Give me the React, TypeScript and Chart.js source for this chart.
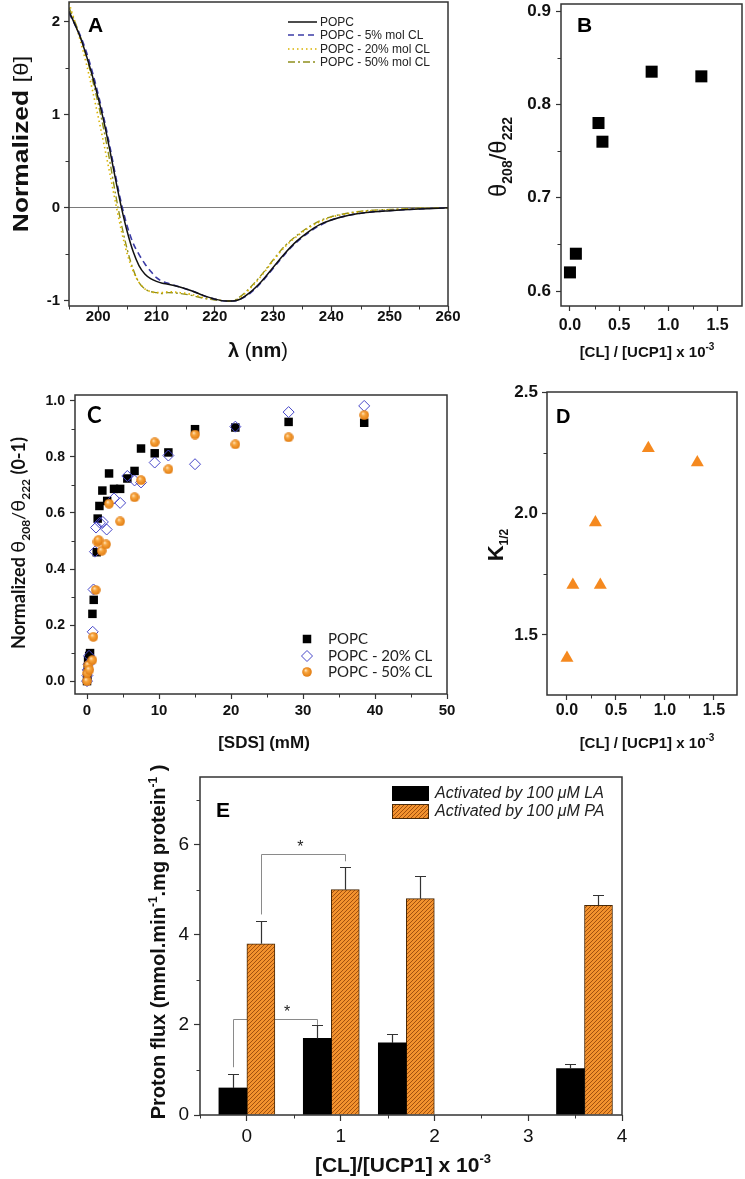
import React, { useEffect, useRef } from 'react';
import { Chart, registerables } from 'chart.js';

Chart.register(...registerables);

const SANS = "'Liberation Sans', Arial, Helvetica, sans-serif";
const CAL = "Lato, 'Open Sans', 'Liberation Sans', sans-serif";

// ---------------- Panel A : CD spectra ----------------
const wavelengthA = [195, 196, 197, 198, 199, 200, 201, 202, 203, 204, 205, 206, 207, 208, 209, 210, 211, 212, 214, 216, 218, 220, 222, 223, 224, 226, 228, 230, 232, 234, 236, 238, 240, 243, 246, 250, 255, 260];
const popcA = [2.11, 1.97, 1.82, 1.63, 1.42, 1.18, 0.92, 0.62, 0.30, 0.00, -0.26, -0.47, -0.62, -0.71, -0.76, -0.79, -0.81, -0.82, -0.85, -0.89, -0.94, -0.98, -1.00, -1.00, -0.99, -0.91, -0.79, -0.64, -0.49, -0.36, -0.26, -0.18, -0.13, -0.08, -0.05, -0.03, -0.012, 0];
const cl5A = [2.09, 1.97, 1.84, 1.67, 1.46, 1.22, 0.96, 0.66, 0.34, 0.04, -0.20, -0.38, -0.50, -0.60, -0.68, -0.75, -0.79, -0.81, -0.85, -0.89, -0.94, -0.98, -1.00, -1.00, -0.99, -0.92, -0.80, -0.65, -0.50, -0.37, -0.27, -0.19, -0.13, -0.08, -0.05, -0.03, -0.012, 0];
const cl20A = [2.20, 2.00, 1.78, 1.54, 1.27, 0.98, 0.68, 0.37, 0.05, -0.25, -0.50, -0.68, -0.80, -0.87, -0.90, -0.91, -0.91, -0.90, -0.91, -0.93, -0.96, -0.98, -1.00, -1.00, -0.98, -0.87, -0.73, -0.57, -0.42, -0.31, -0.22, -0.15, -0.10, -0.06, -0.035, -0.02, -0.006, 0];
const cl50A = [2.15, 2.00, 1.83, 1.62, 1.38, 1.12, 0.83, 0.50, 0.14, -0.18, -0.45, -0.66, -0.80, -0.87, -0.90, -0.91, -0.92, -0.91, -0.92, -0.94, -0.97, -0.99, -1.00, -1.00, -0.97, -0.86, -0.72, -0.56, -0.41, -0.30, -0.21, -0.14, -0.095, -0.055, -0.03, -0.018, -0.005, 0];
const legendA = ['POPC', 'POPC - 5% mol CL', 'POPC - 20% mol CL', 'POPC - 50% mol CL'];

// ---------------- Panel B ----------------
const clRatioB = [0, 0.06, 0.29, 0.33, 0.83, 1.335];
const thetaRatioB = [0.62, 0.64, 0.78, 0.76, 0.835, 0.83];

// ---------------- Panel C ----------------
const sdsPOPC = [0, 0.05, 0.1, 0.15, 0.3, 0.42, 0.75, 0.93, 1.35, 1.48, 1.72, 2.13, 2.8, 3.06, 3.75, 4.6, 5.6, 6.6, 7.5, 9.4, 11.3, 15.0, 20.6, 28.0, 38.5];
const normPOPC = [0.0, 0.02, 0.05, 0.075, 0.09, 0.10, 0.24, 0.29, 0.46, 0.58, 0.625, 0.68, 0.643, 0.741, 0.686, 0.686, 0.723, 0.75, 0.83, 0.813, 0.816, 0.899, 0.905, 0.925, 0.922];
const sdsCL20 = [0, 0.05, 0.1, 0.2, 0.28, 0.79, 0.9, 1.1, 1.25, 1.8, 2.2, 2.73, 3.75, 4.6, 5.6, 6.6, 7.5, 9.4, 11.3, 15.0, 20.6, 28.0, 38.5];
const normCL20 = [0.0, 0.02, 0.04, 0.06, 0.09, 0.176, 0.327, 0.462, 0.548, 0.565, 0.568, 0.541, 0.652, 0.636, 0.732, 0.716, 0.709, 0.78, 0.805, 0.774, 0.908, 0.96, 0.982];
const sdsCL50 = [0, 0.03, 0.19, 0.32, 0.74, 0.88, 1.2, 1.45, 1.6, 2.04, 2.64, 3.06, 4.6, 6.6, 7.5, 9.4, 11.3, 15.0, 20.6, 28.0, 38.5];
const normCL50 = [0.0, 0.028, 0.057, 0.04, 0.075, 0.158, 0.325, 0.497, 0.503, 0.465, 0.488, 0.633, 0.57, 0.656, 0.717, 0.852, 0.756, 0.88, 0.845, 0.87, 0.949];
const legendC = ['POPC', 'POPC - 20% CL', 'POPC - 50% CL'];

// ---------------- Panel D ----------------
const clRatioD = [0, 0.06, 0.29, 0.34, 0.83, 1.33];
const kHalfD = [1.405, 1.706, 1.963, 1.706, 2.268, 2.21];

// ---------------- Panel E ----------------
const ratioE = [0, 0.9, 1.7, 3.6];
const fluxLA = [0.6, 1.7, 1.6, 1.03];
const errLA = [0.3, 0.3, 0.2, 0.1];
const fluxPA = [3.8, 5.0, 4.8, 4.65];
const errPA = [0.5, 0.5, 0.5, 0.23];
const legendE = ['Activated by 100 \u03BCM LA', 'Activated by 100 \u03BCM PA'];
const bracketsE = [
  { x1: 0.15, x2: 1.05, top: 5.79, foot1: 4.45, foot2: 5.63 },
  { x1: -0.15, x2: 0.75, top: 2.14, foot1: 1.06, foot2: 2.0 },
];
const starsE = [
  { x: 0.57, y: 6.03 },
  { x: 0.43, y: 2.37 },
];

// ---------------- helpers ----------------
const xy = (xs: number[], ys: number[]) => xs.map((x, i) => ({ x, y: ys[i] }));

type Seg = { t: string; f: string; dy?: number };
function rich(ctx: CanvasRenderingContext2D, segs: Seg[], x: number, y: number, rot = 0, sx = 1, color = '#111') {
  ctx.save();
  ctx.translate(x, y);
  if (rot) ctx.rotate(rot);
  if (sx !== 1) ctx.scale(sx, 1);
  ctx.textBaseline = 'alphabetic';
  ctx.textAlign = 'left';
  ctx.fillStyle = color;
  const ws = segs.map((s) => {
    ctx.font = s.f;
    return ctx.measureText(s.t).width;
  });
  let cx = -ws.reduce((a, b) => a + b, 0) / 2;
  segs.forEach((s, i) => {
    ctx.font = s.f;
    ctx.fillText(s.t, cx, s.dy || 0);
    cx += ws[i];
  });
  ctx.restore();
}

function letter(ctx: CanvasRenderingContext2D, t: string, x: number, y: number, font: string) {
  ctx.save();
  ctx.font = font;
  ctx.fillStyle = '#000';
  ctx.textAlign = 'left';
  ctx.textBaseline = 'alphabetic';
  ctx.fillText(t, x, y);
  ctx.restore();
}

function linAxis(o: any) {
  return {
    type: 'linear',
    min: o.min,
    max: o.max,
    offset: false,
    ticks: {
      stepSize: o.step,
      includeBounds: false,
      autoSkip: false,
      maxRotation: 0,
      minRotation: 0,
      padding: o.pad,
      color: '#111',
      font: o.font,
      callback: (v: any) => Number(v).toFixed(o.digits),
    },
    grid: Object.assign(
      { display: true, offset: false, drawOnChartArea: false, drawTicks: true, tickLength: o.tick ?? 5, tickColor: '#333', tickWidth: 1.2, color: 'rgba(0,0,0,0)' },
      o.grid || {}
    ),
    border: { display: false },
    afterFit: (s: any) => {
      if (o.vertical) s.width = o.size;
      else s.height = o.size;
      s.paddingTop = 0;
      s.paddingBottom = 0;
      s.paddingLeft = 0;
      s.paddingRight = 0;
    },
  };
}

function decor(o: any) {
  return {
    id: 'decor',
    beforeDatasetsDraw(chart: any) {
      if (o.before) {
        const ctx = chart.ctx;
        ctx.save();
        o.before(chart, ctx);
        ctx.restore();
      }
    },
    afterDraw(chart: any) {
      const ctx: CanvasRenderingContext2D = chart.ctx;
      const a = chart.chartArea;
      ctx.save();
      ctx.strokeStyle = '#333';
      ctx.lineWidth = 1;
      const len = o.minorLen ?? 3.5;
      if (o.minorX) {
        const [step, major] = o.minorX;
        const s = chart.scales.x;
        for (let k = Math.ceil(s.min / step - 1e-9); k * step <= s.max + 1e-9; k++) {
          const v = k * step;
          if (Math.abs(v / major - Math.round(v / major)) < 1e-6) continue;
          const px = Math.round(s.getPixelForValue(v)) + 0.5;
          ctx.beginPath();
          ctx.moveTo(px, a.bottom);
          ctx.lineTo(px, a.bottom + len);
          ctx.stroke();
        }
      }
      if (o.minorY) {
        const [step, major] = o.minorY;
        const s = chart.scales.y;
        for (let k = Math.ceil(s.min / step - 1e-9); k * step <= s.max + 1e-9; k++) {
          const v = k * step;
          if (Math.abs(v / major - Math.round(v / major)) < 1e-6) continue;
          const py = Math.round(s.getPixelForValue(v)) + 0.5;
          ctx.beginPath();
          ctx.moveTo(a.left - len, py);
          ctx.lineTo(a.left, py);
          ctx.stroke();
        }
      }
      ctx.lineWidth = 1.5;
      ctx.strokeRect(a.left, a.top, a.right - a.left, a.bottom - a.top);
      ctx.restore();
      if (o.after) {
        ctx.save();
        o.after(chart, ctx);
        ctx.restore();
      }
    },
  };
}

const baseOpts = (pad: any) => ({
  animation: false,
  responsive: false,
  maintainAspectRatio: false,
  devicePixelRatio: 1,
  events: [],
  layout: { autoPadding: false, padding: pad },
  plugins: { legend: { display: false }, tooltip: { enabled: false }, title: { display: false } },
});

const bf = (size: number, family = SANS) => ({ family, size, weight: 'bold', lineHeight: 1 });

// ---------------- builders ----------------
function buildA() {
  const styles = [
    { ys: popcA, color: '#111111', dash: [], width: 1.5 },
    { ys: cl5A, color: '#3c3ca6', dash: [6, 4], width: 1.6 },
    { ys: cl20A, color: '#d9b300', dash: [1.5, 3], width: 1.6 },
    { ys: cl50A, color: '#8f8f1c', dash: [7, 3, 2, 3], width: 1.4 },
  ];
  return {
    type: 'line',
    data: {
      datasets: styles.map((s, i) => ({
        label: legendA[i],
        data: xy(wavelengthA, s.ys),
        borderColor: s.color,
        borderWidth: s.width,
        borderDash: s.dash,
        pointRadius: 0,
        fill: false,
        cubicInterpolationMode: 'monotone',
      })),
    },
    options: {
      ...baseOpts({ left: 0, right: 22, top: 2, bottom: 0 }),
      scales: {
        x: linAxis({ min: 195, max: 260, step: 10, digits: 0, font: bf(15), size: 59, vertical: false, pad: -2 }),
        y: linAxis({
          min: -1.054, max: 2.21, step: 1, digits: 0, font: bf(15), size: 69, vertical: true, pad: 4,
          grid: {
            drawOnChartArea: true,
            lineWidth: 1,
            color: (c: any) => (c.tick && Math.abs(c.tick.value) < 1e-9 ? '#7a7a7a' : 'rgba(0,0,0,0)'),
          },
        }),
      },
    },
    plugins: [
      decor({
        minorX: [5, 10],
        minorY: [0.5, 1],
        after: (chart: any, ctx: CanvasRenderingContext2D) => {
          letter(ctx, 'A', 88, 32, `bold 21px ${SANS}`);
          const rows = [22, 35, 49, 62];
          chart.data.datasets.forEach((d: any, i: number) => {
            ctx.strokeStyle = d.borderColor;
            ctx.lineWidth = d.borderWidth;
            ctx.setLineDash(d.borderDash);
            ctx.beginPath();
            ctx.moveTo(288, rows[i]);
            ctx.lineTo(317, rows[i]);
            ctx.stroke();
            ctx.setLineDash([]);
            ctx.fillStyle = '#222';
            ctx.font = `12px ${SANS}`;
            ctx.textBaseline = 'middle';
            ctx.textAlign = 'left';
            ctx.fillText(legendA[i], 320, rows[i] + 0.5);
          });
          rich(ctx, [
            { t: '\u03BB ', f: `bold 20px ${SANS}` },
            { t: '(', f: `20px ${SANS}` },
            { t: 'nm', f: `bold 20px ${SANS}` },
            { t: ')', f: `20px ${SANS}` },
          ], 258, 357);
          rich(ctx, [
            { t: 'Normalized ', f: `bold 22px ${SANS}` },
            { t: '[\u03B8]', f: `20px ${SANS}` },
          ], 28, 144, -Math.PI / 2, 1.2);
        },
      }),
    ],
  };
}

const clTitle = (size: number, sup: number, dy: number): Seg[] => [
  { t: '[CL] / [UCP1] x 10', f: `bold ${size}px ${SANS}` },
  { t: '-3', f: `bold ${sup}px ${SANS}`, dy },
];

function buildB() {
  return {
    type: 'scatter',
    data: {
      datasets: [{ data: xy(clRatioB, thetaRatioB), pointStyle: 'rect', pointRadius: 8.5, backgroundColor: '#000', borderWidth: 0 }],
    },
    options: {
      ...baseOpts({ left: 0, right: 3, top: 4, bottom: 0 }),
      scales: {
        x: linAxis({ min: -0.091, max: 1.748, step: 0.5, digits: 1, font: bf(16), size: 59, vertical: false, pad: 7 }),
        y: linAxis({ min: 0.584, max: 0.9075, step: 0.1, digits: 1, font: bf(17), size: 91, vertical: true, pad: 5 }),
      },
    },
    plugins: [
      decor({
        minorX: [0.25, 0.5],
        minorY: [0.05, 0.1],
        after: (chart: any, ctx: CanvasRenderingContext2D) => {
          letter(ctx, 'B', 107, 32, `bold 21px ${SANS}`);
          rich(ctx, clTitle(15, 10, -7), 177, 357);
          rich(ctx, [
            { t: '\u03B8', f: `24px ${SANS}` },
            { t: '208', f: `bold 14px ${SANS}`, dy: 6 },
            { t: '/', f: `24px ${SANS}` },
            { t: '\u03B8', f: `24px ${SANS}` },
            { t: '222', f: `bold 14px ${SANS}`, dy: 6 },
          ], 36, 157, -Math.PI / 2);
        },
      }),
    ],
  };
}

function makeBall(d: number) {
  const c = document.createElement('canvas');
  c.width = d;
  c.height = d;
  const g = c.getContext('2d')!;
  const grad = g.createRadialGradient(d * 0.36, d * 0.32, 0.3, d / 2, d / 2, d / 2);
  grad.addColorStop(0, '#ffe2b8');
  grad.addColorStop(0.35, '#f7a43c');
  grad.addColorStop(1, '#e07a10');
  g.fillStyle = grad;
  g.beginPath();
  g.arc(d / 2, d / 2, d / 2 - 0.2, 0, Math.PI * 2);
  g.fill();
  return c;
}

function buildC() {
  const ball = makeBall(10);
  return {
    type: 'scatter',
    data: {
      datasets: [
        { label: legendC[0], data: xy(sdsPOPC, normPOPC), pointStyle: 'rect', pointRadius: 6, backgroundColor: '#000', borderWidth: 0, order: 3 },
        { label: legendC[1], data: xy(sdsCL20, normCL20), pointStyle: 'rectRot', pointRadius: 5.5, backgroundColor: 'rgba(0,0,0,0)', borderColor: '#4646c8', borderWidth: 1, order: 2 },
        { label: legendC[2], data: xy(sdsCL50, normCL50), pointStyle: ball, pointRadius: 5, backgroundColor: '#f39a2c', borderWidth: 0, order: 1 },
      ],
    },
    options: {
      ...baseOpts({ left: 0, right: 23, top: 30, bottom: 0 }),
      scales: {
        x: linAxis({ min: -1.67, max: 50, step: 10, digits: 0, font: bf(15), size: 71, vertical: false, pad: 4 }),
        y: linAxis({ min: -0.046, max: 1.021, step: 0.2, digits: 1, font: bf(14), size: 75, vertical: true, pad: 5 }),
      },
    },
    plugins: [
      decor({
        minorX: [5, 10],
        minorY: [0.1, 0.2],
        after: (chart: any, ctx: CanvasRenderingContext2D) => {
          letter(ctx, 'C', 87, 58, `bold 22px ${CAL}`);
          const rows = [274, 291, 307];
          const mx = 307;
          ctx.fillStyle = '#000';
          ctx.fillRect(mx - 4.25, rows[0] - 4.25, 8.5, 8.5);
          ctx.strokeStyle = '#4646c8';
          ctx.lineWidth = 1;
          ctx.beginPath();
          ctx.moveTo(mx - 5.5, rows[1]);
          ctx.lineTo(mx, rows[1] - 5.5);
          ctx.lineTo(mx + 5.5, rows[1]);
          ctx.lineTo(mx, rows[1] + 5.5);
          ctx.closePath();
          ctx.stroke();
          ctx.drawImage(ball, mx - 5, rows[2] - 5);
          ctx.fillStyle = '#222';
          ctx.font = `15px ${CAL}`;
          ctx.textBaseline = 'middle';
          ctx.textAlign = 'left';
          legendC.forEach((t, i) => ctx.fillText(t, 328, rows[i] + 0.5));
          rich(ctx, [{ t: '[SDS] (mM)', f: `bold 17px ${SANS}` }], 264, 383);
          rich(ctx, [
            { t: 'Normalized ', f: `bold 18px ${CAL}` },
            { t: '\u03B8', f: `20px ${CAL}` },
            { t: '208', f: `bold 12px ${CAL}`, dy: 5 },
            { t: '/', f: `18px ${CAL}` },
            { t: '\u03B8', f: `20px ${CAL}` },
            { t: '222', f: `bold 12px ${CAL}`, dy: 5 },
            { t: ' (0-1)', f: `bold 18px ${CAL}` },
          ], 25, 178, -Math.PI / 2);
        },
      }),
    ],
  };
}

function buildD() {
  return {
    type: 'scatter',
    data: {
      datasets: [{ data: xy(clRatioD, kHalfD), pointStyle: 'triangle', pointRadius: 7.5, backgroundColor: '#f5891f', borderWidth: 0 }],
    },
    options: {
      ...baseOpts({ left: 0, right: 8, top: 27, bottom: 0 }),
      scales: {
        x: linAxis({ min: -0.204, max: 1.735, step: 0.5, digits: 1, font: bf(16), size: 70, vertical: false, pad: 3 }),
        y: linAxis({ min: 1.253, max: 2.5, step: 0.5, digits: 1, font: bf(17), size: 77, vertical: true, pad: 4 }),
      },
    },
    plugins: [
      decor({
        minorX: [0.25, 0.5],
        minorY: [0.25, 0.5],
        after: (chart: any, ctx: CanvasRenderingContext2D) => {
          letter(ctx, 'D', 86, 58, `bold 20px ${SANS}`);
          rich(ctx, clTitle(15, 10, -7), 177, 383);
          rich(ctx, [
            { t: 'K', f: `bold 22px ${SANS}` },
            { t: '1/2', f: `bold 12px ${SANS}`, dy: 5 },
          ], 33, 180, -Math.PI / 2);
        },
      }),
    ],
  };
}

function makeHatch() {
  const c = document.createElement('canvas');
  c.width = 4;
  c.height = 4;
  const g = c.getContext('2d')!;
  g.fillStyle = '#f3922e';
  g.fillRect(0, 0, 4, 4);
  g.strokeStyle = '#9a4a0c';
  g.lineWidth = 0.9;
  g.beginPath();
  g.moveTo(-1, 5);
  g.lineTo(5, -1);
  g.moveTo(-1, 1);
  g.lineTo(1, -1);
  g.moveTo(3, 5);
  g.lineTo(5, 3);
  g.stroke();
  return g.createPattern(c, 'repeat');
}

function buildE() {
  const hatch = makeHatch();
  const tickF = { family: SANS, size: 19, weight: 'normal', lineHeight: 1 };
  return {
    type: 'bar',
    data: {
      datasets: [
        { label: legendE[0], data: xy(ratioE, fluxLA), backgroundColor: '#000', borderWidth: 0, barThickness: 28 },
        { label: legendE[1], data: xy(ratioE, fluxPA), backgroundColor: hatch, borderColor: '#4a2a08', borderWidth: 1, barThickness: 28 },
      ],
    },
    options: {
      ...baseOpts({ left: 0, right: 123, top: 12, bottom: 0 }),
      scales: {
        x: linAxis({ min: -0.5, max: 4, step: 1, digits: 0, font: tickF, size: 64, vertical: false, pad: 6.5, tick: 6 }),
        y: linAxis({ min: 0, max: 7.5, step: 2, digits: 0, font: tickF, size: 200, vertical: true, pad: 5, tick: 6 }),
      },
    },
    plugins: [
      decor({
        minorX: [0.5, 1],
        minorY: [1, 2],
        before: (chart: any, ctx: CanvasRenderingContext2D) => {
          const xs = chart.scales.x;
          const ys = chart.scales.y;
          ctx.strokeStyle = '#8a8a8a';
          ctx.lineWidth = 1;
          bracketsE.forEach((b) => {
            const x1 = Math.round(xs.getPixelForValue(b.x1)) + 0.5;
            const x2 = Math.round(xs.getPixelForValue(b.x2)) + 0.5;
            const yt = Math.round(ys.getPixelForValue(b.top)) + 0.5;
            ctx.beginPath();
            ctx.moveTo(x1, ys.getPixelForValue(b.foot1));
            ctx.lineTo(x1, yt);
            ctx.lineTo(x2, yt);
            ctx.lineTo(x2, ys.getPixelForValue(b.foot2));
            ctx.stroke();
          });
        },
        after: (chart: any, ctx: CanvasRenderingContext2D) => {
          const xs = chart.scales.x;
          const ys = chart.scales.y;
          // error bars
          ctx.strokeStyle = '#333';
          ctx.lineWidth = 1.2;
          [[fluxLA, errLA], [fluxPA, errPA]].forEach(([vals, errs], di) => {
            const meta = chart.getDatasetMeta(di);
            meta.data.forEach((el: any, i: number) => {
              const x = Math.round(el.x) + 0.5;
              const y0 = ys.getPixelForValue(vals[i]);
              const y1 = Math.round(ys.getPixelForValue(vals[i] + errs[i])) + 0.5;
              ctx.beginPath();
              ctx.moveTo(x, y0);
              ctx.lineTo(x, y1);
              ctx.moveTo(x - 5.5, y1);
              ctx.lineTo(x + 5.5, y1);
              ctx.stroke();
            });
          });
          // stars
          ctx.fillStyle = '#222';
          ctx.font = `16px ${SANS}`;
          ctx.textAlign = 'center';
          ctx.textBaseline = 'alphabetic';
          starsE.forEach((s) => ctx.fillText('*', xs.getPixelForValue(s.x), ys.getPixelForValue(s.y) + 9));
          // legend
          ctx.fillStyle = '#000';
          ctx.fillRect(392, 21, 37, 15);
          ctx.fillStyle = hatch as any;
          ctx.fillRect(392, 39, 37, 15);
          ctx.strokeStyle = '#4a2a08';
          ctx.lineWidth = 1;
          ctx.strokeRect(392.5, 39.5, 36, 14);
          ctx.fillStyle = '#222';
          ctx.font = `italic 16px ${SANS}`;
          ctx.textAlign = 'left';
          ctx.textBaseline = 'middle';
          ctx.fillText(legendE[0], 435, 29);
          ctx.fillText(legendE[1], 435, 47);
          letter(ctx, 'E', 216, 52, `bold 21px ${SANS}`);
          rich(ctx, [
            { t: '[CL]/[UCP1] x 10', f: `bold 21px ${SANS}` },
            { t: '-3', f: `bold 13px ${SANS}`, dy: -9 },
          ], 403, 407);
          rich(ctx, [
            { t: 'Proton flux (mmol.min', f: `bold 20px ${SANS}` },
            { t: '-1', f: `bold 12px ${SANS}`, dy: -8 },
            { t: '.mg protein', f: `bold 20px ${SANS}` },
            { t: '-1', f: `bold 12px ${SANS}`, dy: -8 },
            { t: ' )', f: `bold 20px ${SANS}` },
          ], 165, 177, -Math.PI / 2);
        },
      }),
    ],
  };
}

function Panel({ x, y, w, h, build }: { x: number; y: number; w: number; h: number; build: () => any }) {
  const ref = useRef<HTMLCanvasElement | null>(null);
  useEffect(() => {
    const chart = new Chart(ref.current as HTMLCanvasElement, build());
    return () => chart.destroy();
  }, []);
  return (
    <canvas
      ref={ref}
      width={w}
      height={h}
      style={{ position: 'absolute', left: x, top: y, width: w, height: h, display: 'block' }}
    />
  );
}

export default function App() {
  return (
    <div
      style={{
        position: 'absolute',
        left: 0,
        top: 0,
        width: 745,
        height: 1179,
        overflow: 'hidden',
        background: '#ffffff',
      }}
    >
      <Panel x={0} y={0} w={470} h={365} build={buildA} />
      <Panel x={470} y={0} w={275} h={365} build={buildB} />
      <Panel x={0} y={365} w={470} h={400} build={buildC} />
      <Panel x={470} y={365} w={275} h={400} build={buildD} />
      <Panel x={0} y={765} w={745} h={414} build={buildE} />
    </div>
  );
}
